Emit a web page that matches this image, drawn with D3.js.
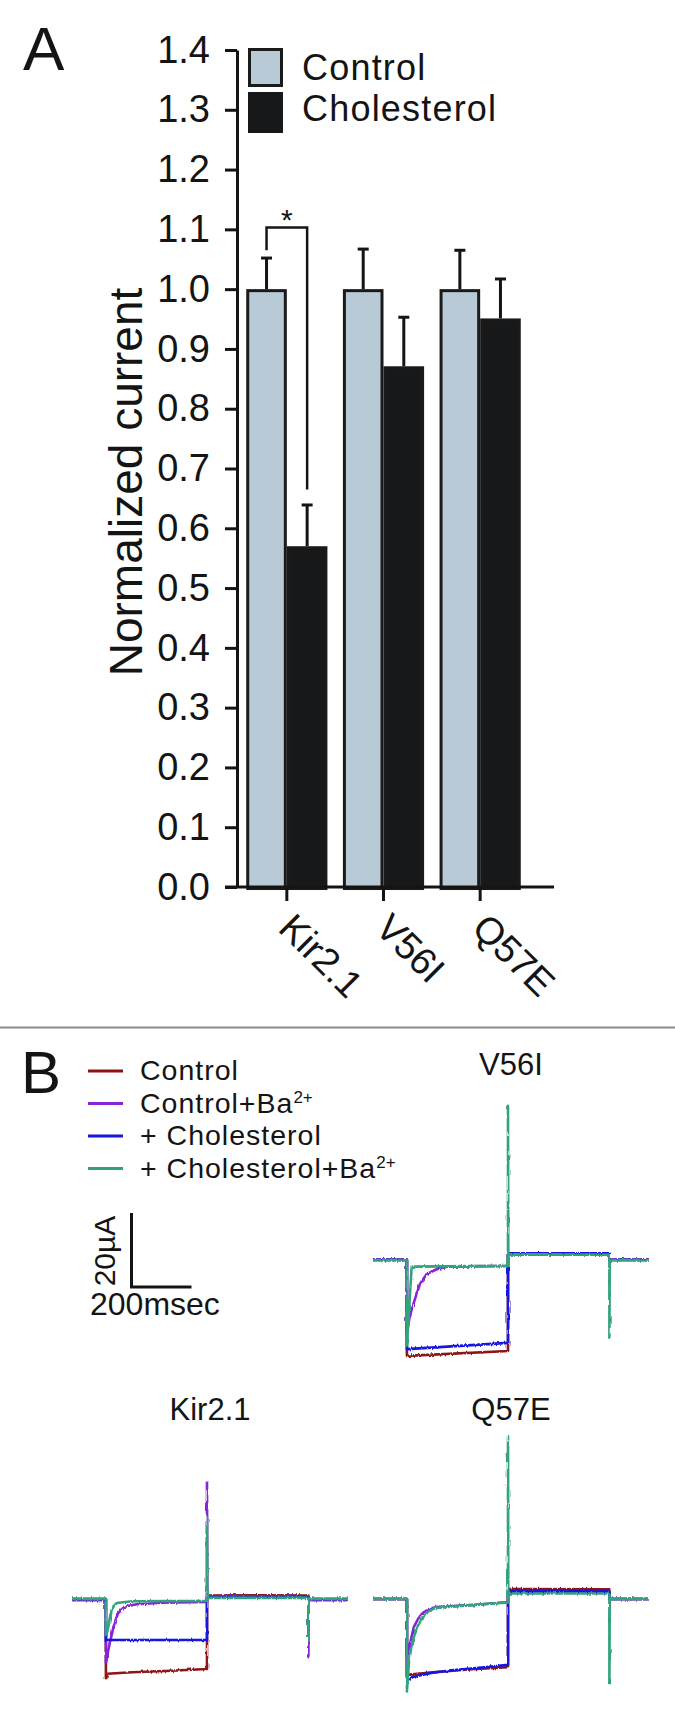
<html>
  <head>
    <meta charset="utf-8" />
    <script src="https://d3js.org/d3.v7.min.js"></script>
    <style>
      body { margin: 0; background: #fff; }
      svg { display: block; font-family: "Liberation Sans", Arial, sans-serif; }
    </style>
  </head>
  <body>
    <div class="container"></div>
  </body>
</html>

<script>
  // ---- panel A data ----
  const groups = ["Kir2.1", "V56I", "Q57E"];
  const conditions = ["Control", "Cholesterol"];
  const controlMean = [1.0, 1.0, 1.0];
  const controlSem = [0.052, 0.067, 0.065];
  const cholMean = [0.57, 0.871, 0.951];
  const cholSem = [0.069, 0.082, 0.066];
  const yTicks = [0, 0.1, 0.2, 0.3, 0.4, 0.5, 0.6, 0.7, 0.8, 0.9, 1.0, 1.1, 1.2, 1.3, 1.4];

  // ---- panel B data: [time ms, current uA] ----
  const traceNames = ["Control", "Control+Ba", "+ Cholesterol", "+ Cholesterol+Ba"];
  const traceColors = ["#8e1313", "#8a22d8", "#1717e2", "#30a37c"];

  const kirControl = [[0, 0], [113, 0], [113, -21.4], [118, -20.2], [200, -19.8], [330, -19.4], [450, -18.9], [450, 0.9], [620, 1.0], [788, 0.9], [788, 0], [920, 0]];
  const kirControlBa = [[0, -0.3], [113, -0.3], [113, -17.3], [121, -13.8], [130, -10.5], [138, -7.6], [146, -5.5], [154, -3.8], [166, -2.7], [182, -1.9], [216, -1.4], [300, -1.0], [450, -0.8], [450, 31.4], [451, 0.8], [788, 0.6], [788, -15.7], [789, -0.3], [920, -0.3]];
  const kirChol = [[0, 0], [113, 0], [113, -11.1], [450, -11.1], [450, 0.5], [788, 0.5], [788, 0], [920, 0]];
  const kirCholBa = [[0, 0], [113, 0], [113, -9.7], [121, -7.6], [127, -5.0], [132, -3.0], [140, -1.8], [149, -1.1], [200, -0.6], [450, -0.5], [450, 22.2], [451, 0.3], [788, 0.3], [788, -11.1], [789, 0], [920, 0]];

  const v56Control = [[0, 0], [113, 0], [113, -25.9], [450, -24.6], [450, 1.6], [788, 1.6], [788, 0], [920, 0]];
  const v56ControlBa = [[0, 0.2], [113, 0.2], [113, -19.7], [123, -15.0], [140, -10.5], [157, -6.4], [179, -3.8], [212, -2.5], [246, -1.8], [450, -1.6], [450, 1.6], [788, 1.6], [788, 0.2], [920, 0.2]];
  const v56Chol = [[0, 0], [113, 0], [113, -24.1], [450, -22.4], [450, 1.8], [788, 1.8], [788, 0], [920, 0]];
  const v56CholBa = [[0, 0], [113, 0], [113, -23.0], [129, -1.8], [450, -1.6], [450, 41.4], [451, 1.6], [788, 1.4], [788, -21.0], [789, 0], [920, 0]];

  const q57Control = [[0, 0], [113, 0], [113, -20.5], [140, -20.3], [200, -19.8], [330, -19.0], [450, -18.4], [450, 2.7], [788, 2.6], [788, 0], [920, 0]];
  const q57ControlBa = [[0, 0], [113, 0], [113, -15.7], [125, -11.5], [136, -7.6], [150, -5.4], [165, -3.8], [185, -2.8], [208, -2.2], [337, -1.6], [450, -0.8], [450, 2.0], [788, 2.0], [788, 0], [920, 0]];
  const q57Chol = [[0, 0], [113, 0], [113, -21.9], [136, -21.0], [194, -20.0], [260, -19.3], [337, -18.7], [450, -17.8], [450, 2.2], [788, 2.2], [788, 0], [920, 0]];
  const q57CholBa = [[0, 0], [113, 0], [113, -25.0], [120, -17.0], [128, -12.8], [136, -10.3], [150, -7.2], [165, -5.1], [185, -3.3], [208, -2.4], [337, -1.6], [450, -0.9], [450, 43.8], [451, 1.5], [788, 1.5], [788, -22.7], [789, 0], [920, 0]];

  const panels = [
    { title: "V56I", x0: 373, base: 1260, traces: [v56Control, v56ControlBa, v56Chol, v56CholBa] },
    { title: "Kir2.1", x0: 72, base: 1599, traces: [kirControl, kirControlBa, kirChol, kirCholBa] },
    { title: "Q57E", x0: 373, base: 1599, traces: [q57Control, q57ControlBa, q57Chol, q57CholBa] },
  ];

  const width = 675;
  const height = 1721;
  const ink = "#141414";

  const svg = d3
    .select(".container")
    .append("svg")
    .attr("width", width)
    .attr("height", height);

  // recording-noise look for the traces (visual only)
  const defs = svg.append("defs");
  const filt = defs
    .append("filter")
    .attr("id", "jitter")
    .attr("x", "-5%")
    .attr("y", "-5%")
    .attr("width", "110%")
    .attr("height", "110%");
  filt
    .append("feTurbulence")
    .attr("type", "fractalNoise")
    .attr("baseFrequency", "0.8 0.08")
    .attr("numOctaves", 2)
    .attr("seed", 4)
    .attr("result", "t");
  filt
    .append("feDisplacementMap")
    .attr("in", "SourceGraphic")
    .attr("in2", "t")
    .attr("scale", 3)
    .attr("xChannelSelector", "R")
    .attr("yChannelSelector", "G");

  // ================= Panel A =================
  const y = d3.scaleLinear().domain([0, 1.4]).range([887, 50]);
  const x0 = d3.scaleBand().domain(groups).range([238.5, 528.5]).paddingInner(0.16).paddingOuter(0.08);
  const x1 = d3.scaleBand().domain(conditions).range([0, x0.bandwidth()]);

  svg
    .append("text")
    .attr("x", 23)
    .attr("y", 70)
    .attr("font-size", 62)
    .attr("fill", ink)
    .text("A");

  const barData = [];
  groups.forEach((g, i) => {
    barData.push({ g, c: "Control", v: controlMean[i], e: controlSem[i] });
    barData.push({ g, c: "Cholesterol", v: cholMean[i], e: cholSem[i] });
  });
  const fillOf = (c) => (c === "Control" ? "#b9cad7" : "#16181a");

  const bars = svg.append("g");
  bars
    .selectAll("rect")
    .data(barData)
    .join("rect")
    .attr("x", (d) => x0(d.g) + x1(d.c) + 1.5)
    .attr("width", x1.bandwidth() - 3)
    .attr("y", (d) => y(d.v) + 1.5)
    .attr("height", (d) => y(0) - y(d.v))
    .attr("fill", (d) => fillOf(d.c))
    .attr("stroke", "#1a1a1a")
    .attr("stroke-width", 3);

  const errs = svg.append("g").attr("stroke", ink).attr("stroke-width", 3);
  const cx = (d) => x0(d.g) + x1(d.c) + x1.bandwidth() / 2;
  errs
    .selectAll("line.v")
    .data(barData)
    .join("line")
    .attr("class", "v")
    .attr("x1", cx)
    .attr("x2", cx)
    .attr("y1", (d) => y(d.v))
    .attr("y2", (d) => y(d.v + d.e));
  errs
    .selectAll("line.c")
    .data(barData)
    .join("line")
    .attr("class", "c")
    .attr("x1", (d) => cx(d) - 5.5)
    .attr("x2", (d) => cx(d) + 5.5)
    .attr("y1", (d) => y(d.v + d.e))
    .attr("y2", (d) => y(d.v + d.e));

  // significance bracket
  const bl = cx(barData[0]);
  const br = cx(barData[1]);
  svg
    .append("path")
    .attr("fill", "none")
    .attr("stroke", ink)
    .attr("stroke-width", 2.5)
    .attr("d", `M${bl},${y(1.065)}V${y(1.103)}H${br}V${y(0.665)}`);
  svg
    .append("text")
    .attr("x", (bl + br) / 2)
    .attr("y", 230)
    .attr("text-anchor", "middle")
    .attr("font-size", 30)
    .attr("fill", ink)
    .text("*");

  // y axis
  const yAxis = svg
    .append("g")
    .attr("transform", "translate(237,0)")
    .call(
      d3
        .axisLeft(y)
        .tickValues(yTicks)
        .tickSize(12)
        .tickSizeOuter(0)
        .tickPadding(15)
        .tickFormat(d3.format(".1f"))
    );
  yAxis.selectAll("path, line").attr("stroke", ink).attr("stroke-width", 3);
  yAxis.selectAll("text").attr("font-size", 38).attr("fill", ink).attr("font-family", null);

  // x axis
  const xAxis = svg
    .append("g")
    .attr("transform", `translate(0,${y(0)})`)
    .call(d3.axisBottom(x0).tickSize(14).tickSizeOuter(0));
  xAxis.select(".domain").remove();
  xAxis.selectAll("line").attr("stroke", ink).attr("stroke-width", 3);
  xAxis.selectAll("text").remove();
  svg
    .append("line")
    .attr("x1", 225)
    .attr("x2", 554)
    .attr("y1", y(0))
    .attr("y2", y(0))
    .attr("stroke", ink)
    .attr("stroke-width", 3);

  svg
    .append("g")
    .selectAll("text")
    .data(groups)
    .join("text")
    .attr("transform", (d) => `translate(${x0(d) + x0.bandwidth() / 2 - 10},930) rotate(45)`)
    .attr("font-size", 38)
    .attr("fill", ink)
    .text((d) => d);

  svg
    .append("text")
    .attr("transform", "translate(142,482) rotate(-90)")
    .attr("text-anchor", "middle")
    .attr("font-size", 46)
    .attr("fill", ink)
    .text("Normalized current");

  // legend A
  const legA = svg.append("g");
  legA
    .append("rect")
    .attr("x", 249.5)
    .attr("y", 49.5)
    .attr("width", 32)
    .attr("height", 36)
    .attr("fill", fillOf("Control"))
    .attr("stroke", "#1a1a1a")
    .attr("stroke-width", 3);
  legA
    .append("rect")
    .attr("x", 248)
    .attr("y", 92)
    .attr("width", 35)
    .attr("height", 41)
    .attr("fill", fillOf("Cholesterol"));
  legA
    .selectAll("text")
    .data(conditions)
    .join("text")
    .attr("x", 302)
    .attr("y", (d, i) => 80 + i * 41)
    .attr("font-size", 36)
    .attr("letter-spacing", 1.2)
    .attr("fill", ink)
    .text((d) => d);

  // separator
  svg
    .append("line")
    .attr("x1", 0)
    .attr("x2", width)
    .attr("y1", 1027.5)
    .attr("y2", 1027.5)
    .attr("stroke", "#8a8a8a")
    .attr("stroke-width", 2);

  // ================= Panel B =================
  svg
    .append("text")
    .attr("x", 21)
    .attr("y", 1093)
    .attr("font-size", 60)
    .attr("fill", ink)
    .text("B");

  const legB = svg.append("g");
  traceNames.forEach((name, i) => {
    const ly = 1071 + i * 32.5;
    legB
      .append("line")
      .attr("x1", 88)
      .attr("x2", 123)
      .attr("y1", ly)
      .attr("y2", ly)
      .attr("stroke", traceColors[i])
      .attr("stroke-width", 3);
    const t = legB
      .append("text")
      .attr("x", 140)
      .attr("y", ly + 9)
      .attr("font-size", 28.5)
      .attr("letter-spacing", 1)
      .attr("fill", ink)
      .text(name);
    if (name.endsWith("Ba")) {
      t.append("tspan").attr("font-size", 17).attr("dy", -10).attr("letter-spacing", 0).text("2+");
    }
  });

  const tScale = (p) => d3.scaleLinear().domain([0, 920]).range([p.x0, p.x0 + 276]);
  const iScale = (p) => d3.scaleLinear().domain([-30, 50]).range([p.base + 111, p.base - 185]);

  panels.forEach((p) => {
    const xs = tScale(p);
    const ys = iScale(p);
    svg
      .append("text")
      .attr("x", xs(460))
      .attr("y", p.title === "V56I" ? 1075 : 1420)
      .attr("text-anchor", "middle")
      .attr("font-size", 31)
      .attr("fill", ink)
      .text(p.title);

    const line = d3
      .line()
      .x((d) => xs(d[0]))
      .y((d) => ys(d[1]));
    const g = svg.append("g").attr("filter", "url(#jitter)");
    g.selectAll("path")
      .data(p.traces)
      .join("path")
      .attr("fill", "none")
      .attr("stroke", (d, i) => traceColors[i])
      .attr("stroke-width", 2.6)
      .attr("stroke-linejoin", "round")
      .attr("d", line);
  });

  // scale bar: 200 msec x 20 uA, same scales as the traces
  const sbT = d3.scaleLinear().domain([0, 920]).range([0, 276]);
  const sbI = d3.scaleLinear().domain([0, 80]).range([0, 296]);
  const sbx = 131.5;
  const sby = 1287;
  svg
    .append("path")
    .attr("fill", "none")
    .attr("stroke", ink)
    .attr("stroke-width", 3)
    .attr("d", `M${sbx},${sby - sbI(20)}V${sby}H${sbx + sbT(200)}`);
  svg
    .append("text")
    .attr("transform", `translate(114.5,${sby - sbI(10) + 1}) rotate(-90)`)
    .attr("text-anchor", "middle")
    .attr("font-size", 30)
    .attr("fill", ink)
    .text("20\u00B5A");
  svg
    .append("text")
    .attr("x", 90)
    .attr("y", 1315)
    .attr("font-size", 32)
    .attr("fill", ink)
    .text("200msec");
</script>
